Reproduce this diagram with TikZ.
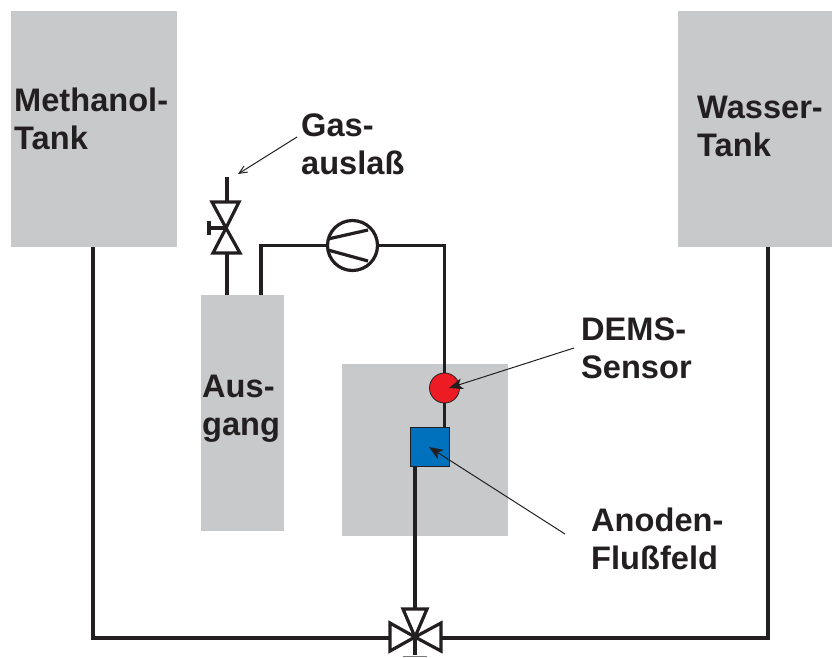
\documentclass[tikz,border=0pt]{standalone}
\usepackage{fontspec}
\setmainfont{Liberation Sans}
\usetikzlibrary{arrows.meta}
\definecolor{ink}{HTML}{231F20}
\definecolor{tankgray}{HTML}{C8C9CB}
\definecolor{sensorred}{HTML}{ED1C24}
\definecolor{fieldblue}{HTML}{0071BC}
\tikzset{
  tank/.style={fill=tankgray,draw=none,minimum width=#1,inner sep=0pt,outer sep=0pt},
  pipe/.style={draw=ink,line width=3.2pt,line cap=butt,line join=miter},
  sym/.style={draw=ink,line width=3.2pt,line join=miter},
  lbl/.style={text=ink,anchor=west,align=left,inner sep=0pt,font=\fontsize{32.6}{38}\selectfont\bfseries},
  pointer/.style={draw=ink,line width=1pt,-{Stealth[length=14pt,width=11pt,inset=4pt]}},
  thinpointer/.style={draw=ink,line width=1pt,-{Straight Barb[length=8pt,width=7pt]}}
}
\begin{document}
\begin{tikzpicture}[x=1pt,y=-1pt]
\useasboundingbox (0,0) rectangle (832,657);
% grey blocks
\node[tank=166pt,minimum height=236pt] (methanol) at (94,129) {};
\node[tank=154pt,minimum height=236pt] (wasser) at (755,129) {};
\node[tank=83pt,minimum height=236pt] (ausgang) at (242.5,413) {};
\node[tank=166pt,minimum height=172pt] (cell) at (425,450) {};
% junction coordinates
\coordinate (gasend) at (227,177);
\coordinate (v1top) at (227,202);
\coordinate (v1mid) at (226,228);
\coordinate (v1bot) at (227,253);
\coordinate (v3l) at (390,638);
\coordinate (v3r) at (441,638);
\coordinate (v3t) at (415,609);
\coordinate (v3c) at (415,637);
\coordinate (c1) at (261,245.5);
\coordinate (c2) at (444.5,245.5);
\coordinate (c3) at (93,638);
\coordinate (c4) at (768,638);
\coordinate (handle) at (209,228);
\coordinate (v3stem) at (415,655);
% pipes under symbols
\node[circle,draw=ink,line width=3.2pt,minimum size=50pt,inner sep=0pt,outer sep=0pt] (pump) at (352.5,245.5) {};
\node[circle,fill=sensorred,draw=ink,line width=0.8pt,minimum size=30pt,inner sep=0pt,outer sep=0pt] (sensor) at (444.5,388) {};
\node[rectangle,fill=fieldblue,draw=ink,line width=0.8pt,minimum size=39pt,inner sep=0pt,outer sep=0pt] (field) at (430,447) {};
\draw[pipe] (gasend) -- (v1top);
\draw[pipe] (v1bot) -- (227,295);
\draw[pipe] (261,295) -- (c1) -- (pump.west);
\draw[pipe] (pump.east) -- (c2) -- (sensor.north);
\draw[pipe] (sensor.south) -- (444.5,427);
\draw[pipe] (415,467) -- (v3t);
\draw[pipe] (93,247) -- (c3) -- (v3l);
\draw[pipe] (v3r) -- (c4) -- (768,247);
% pump
\draw[sym] (328,239) -- (368,230);
\draw[sym] (328,250) -- (368,261);
% gas valve
\draw[sym] (212,202) -- (239,202) -- (v1mid) -- cycle;
\draw[sym] (213,253) -- (240,253) -- (v1mid) -- cycle;
\draw[sym] (handle) -- (v1mid);
\draw[sym] (209,221) -- (209,235);
% three way valve
\draw[sym] (403,609) -- (427,609) -- (v3c) -- cycle;
\draw[sym] (390,623) -- (390,651) -- (v3c) -- cycle;
\draw[sym] (441,623) -- (441,651) -- (v3c) -- cycle;
\draw[pipe] (v3c) -- (v3stem);
\draw[draw=ink!60,line width=1.5pt] (403,656.5) -- (427,656.5);
% labels
\node[lbl] (lmeth) at (14,119) {Methanol-\\Tank};
\node[lbl] (lwass) at (697,126.5) {Wasser-\\Tank};
\node[lbl] (lgas) at (301,144.5) {Gas-\\auslaß};
\node[lbl] (laus) at (202,408.5) {Aus-\\gang};
\node[lbl] (ldems) at (581,348) {DEMS-\\Sensor};
\node[lbl] (lanod) at (591,539) {Anoden-\\Flußfeld};
% pointers
\coordinate (gastip) at (238,174);
\coordinate (demstip) at (449,388);
\coordinate (fieldtip) at (429,447);
\draw[thinpointer] (297,137) -- (gastip);
\draw[pointer] (574,348) -- (demstip);
\draw[pointer] (565,534) -- (fieldtip);
\end{tikzpicture}
\end{document}
